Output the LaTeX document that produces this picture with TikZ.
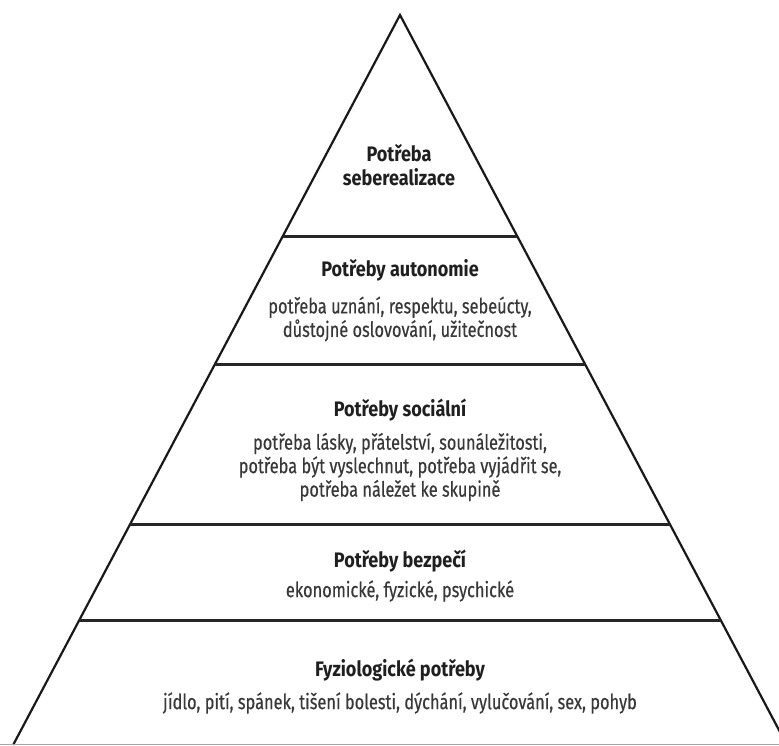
\documentclass[tikz,border=0pt]{standalone}
\usepackage{fontspec}
\setmainfont[FakeStretch=0.78,FakeBold=0.4]{Fira Sans}
\newfontfamily\titlefont[FakeStretch=0.86]{Fira Sans}
\usepackage{tikz}

\begin{document}
\begin{tikzpicture}[x=1pt,y=-1pt]
	\tikzstyle{edge}=[draw=black!90,line width=2.2pt]
	\tikzstyle{level}=[draw=black!85,line width=3pt]
	\tikzstyle{title}=[font=\titlefont\fontsize{21}{24}\selectfont\bfseries,text=black!88]
	\tikzstyle{items}=[font=\fontsize{21}{23.5}\selectfont,text=black!78,align=center]
	\useasboundingbox (0,0) rectangle (779,745);
	\clip (0,0) rectangle (779,745);
	\coordinate (apex) at (400,15);
	\coordinate (bl) at (13.1,745);
	\coordinate (br) at (786.9,745);
	\draw[edge,line join=miter] (bl) -- (apex) -- (br);
	\draw[draw=black!35,line width=1pt] (0,744.5) -- (779,744.5);
	\draw[level] (282.9,236) -- (517.1,236);
	\draw[level] (215,364) -- (585,364);
	\draw[level] (130.2,524) -- (669.8,524);
	\draw[level] (79.3,620) -- (720.7,620);
	\node[title,align=center](t1) at (399,165) {Potřeba\\seberealizace};
	\node[title](t2) at (400,270) {Potřeby autonomie};
	\node[items](i2) at (400,319) {potřeba uznání, respektu, sebeúcty,\\důstojné oslovování, užitečnost};
	\node[title](t3) at (400,410) {Potřeby sociální};
	\node[items](i3) at (400,467) {potřeba lásky, přátelství, sounáležitosti,\\potřeba být vyslechnut, potřeba vyjádřit se,\\potřeba náležet ke skupině};
	\node[title](t4) at (400,561) {Potřeby bezpečí};
	\node[items](i4) at (400,591) {ekonomické, fyzické, psychické};
	\node[title](t5) at (400,670) {Fyziologické potřeby};
	\node[items](i5) at (400,703) {jídlo, pití, spánek, tišení bolesti, dýchání, vylučování, sex, pohyb};
\end{tikzpicture}
\end{document}
